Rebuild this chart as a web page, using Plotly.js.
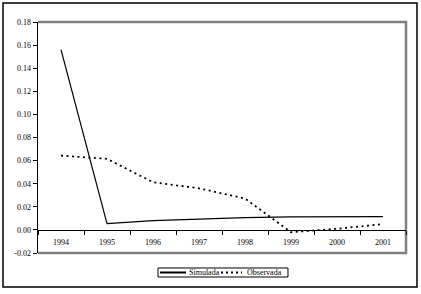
<!DOCTYPE html>
<html>
<head>
<meta charset="utf-8">
<script src="https://cdn.plot.ly/plotly-3.0.1.min.js"></script>
<style>html,body{margin:0;padding:0;background:#fff;}#chart{width:421px;height:294px;}</style>
</head>
<body>
<div id="chart"></div>
<script>
var years = [1994, 1995, 1996, 1997, 1998, 1999, 2000, 2001];
var simulada = [0.156, 0.0055, 0.008, 0.0095, 0.0107, 0.0113, 0.0115, 0.0115];
var observada = [0.0643, 0.0615, 0.0413, 0.036, 0.0272, -0.002, 0.001, 0.005];
var seriesNames = ['Simulada', 'Observada'];
var yTickVals = [-0.02, 0, 0.02, 0.04, 0.06, 0.08, 0.10, 0.12, 0.14, 0.16, 0.18];
var yTickText = ['-0.02', '0.00', '0.02', '0.04', '0.06', '0.08', '0.10', '0.12', '0.14', '0.16', '0.18'];
var xTickText = years.map(String);
var boundaries = [1993.5, 1994.5, 1995.5, 1996.5, 1997.5, 1998.5, 1999.5, 2000.5, 2001.5];

var font = {family: 'Liberation Serif, Times New Roman, serif', size: 8, color: '#000'};

var traces = [
  {x: years, y: simulada, name: seriesNames[0], type: 'scatter', mode: 'lines',
   line: {color: '#000', width: 1.2}},
  {x: years, y: observada, name: seriesNames[1], type: 'scatter', mode: 'lines',
   line: {color: '#000', width: 1.8, dash: '2px,3.5px'}}
];

// legend geometry (paper coords)
var legY = -0.0844;
var layout = {
  width: 421, height: 294,
  margin: {l: 38, r: 15, t: 22, b: 41, pad: 0, autoexpand: false},
  paper_bgcolor: '#fff',
  plot_bgcolor: 'rgba(0,0,0,0)',
  font: font,
  showlegend: false,
  xaxis: {
    range: [1993.5, 2001.5],
    anchor: 'free', position: 0.1,
    showgrid: false, zeroline: false,
    showline: true, linecolor: '#000', linewidth: 1,
    tickmode: 'array', tickvals: years, ticktext: xTickText,
    ticks: 'outside', ticklen: 0, tickcolor: '#000',
    ticklabelstandoff: 4,
    minor: {tickmode: 'array', tickvals: boundaries, ticks: 'outside', ticklen: 4, tickcolor: '#000', tickwidth: 1, showgrid: false},
    tickfont: font,
    fixedrange: true
  },
  yaxis: {
    range: [-0.02, 0.18],
    showgrid: false, zeroline: false,
    showline: true, linecolor: '#000', linewidth: 1.5,
    tickmode: 'array', tickvals: yTickVals, ticktext: yTickText,
    ticks: 'outside', ticklen: 4, tickcolor: '#000',
    tickfont: font,
    fixedrange: true
  },
  shapes: [
    {type: 'path', xref: 'paper', yref: 'paper', path: 'M0,1 L1,1 L1,0 L0,0',
     line: {color: '#808080', width: 2.5}, layer: 'below'},
    {type: 'rect', xref: 'paper', yref: 'paper', x0: -0.0951, x1: 1.0299, y0: -0.1472, y1: 1.0823,
     line: {color: '#000', width: 1.5}, layer: 'below'},
    // legend box
    {type: 'rect', xref: 'paper', yref: 'paper', x0: 0.3261, x1: 0.6793, y0: -0.1039, y1: -0.0649,
     line: {color: '#000', width: 1}, fillcolor: '#fff'},
    {type: 'line', xref: 'paper', yref: 'paper', x0: 0.3315, x1: 0.4022, y0: legY, y1: legY,
     line: {color: '#000', width: 2}},
    {type: 'line', xref: 'paper', yref: 'paper', x0: 0.4973, x1: 0.5543, y0: legY, y1: legY,
     line: {color: '#000', width: 2, dash: '2px,3px'}}
  ],
  annotations: [
    {xref: 'paper', yref: 'paper', x: 0.4049, y: legY, xanchor: 'left', yanchor: 'middle',
     text: seriesNames[0], showarrow: false, font: font, xshift: 0},
    {xref: 'paper', yref: 'paper', x: 0.5625, y: legY, xanchor: 'left', yanchor: 'middle',
     text: seriesNames[1], showarrow: false, font: font}
  ]
};

Plotly.newPlot('chart', traces, layout, {staticPlot: true, displayModeBar: false});
</script>
</body>
</html>
